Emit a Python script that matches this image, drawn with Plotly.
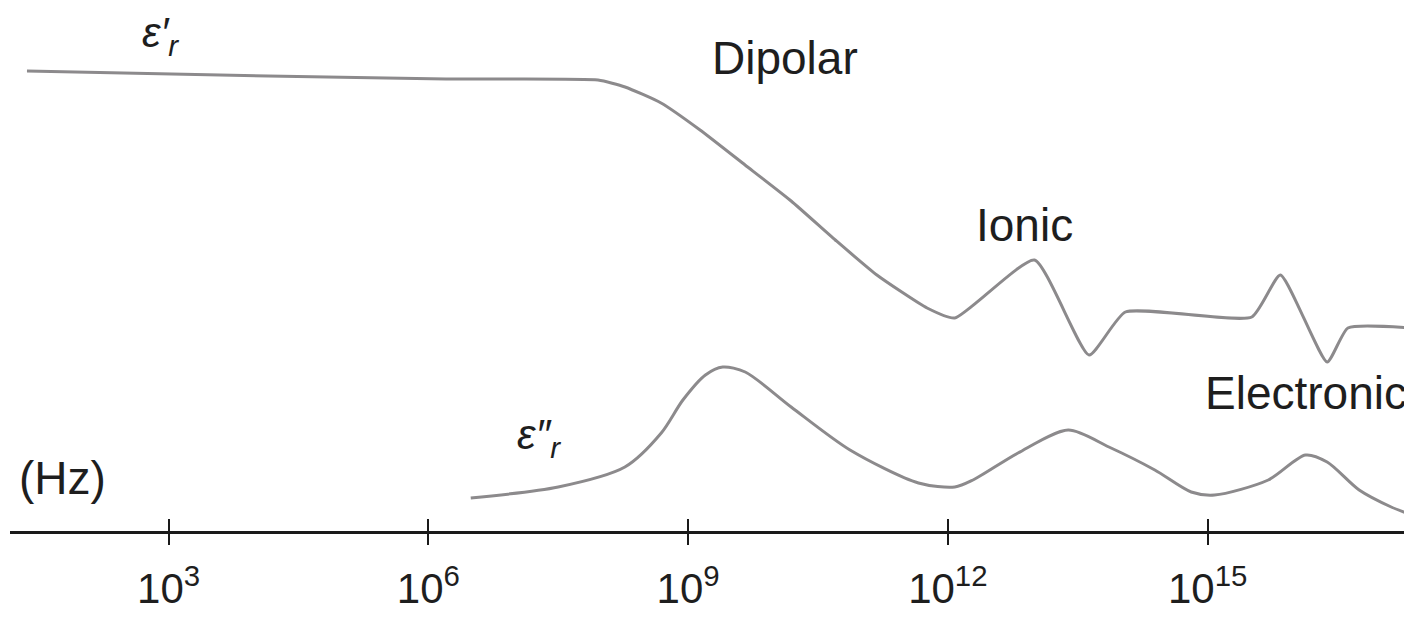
import plotly.graph_objects as go

# x values: log10(frequency / Hz); y values: relative permittivity (arbitrary units)
eps_real_logf = [1.365, 4.149, 6.205, 7.960, 8.272, 8.688, 9.138, 9.658, 10.19, 10.70,
                 11.18, 11.76, 12.08, 13.00, 13.63, 14.05, 15.51, 15.84, 16.38, 16.62, 17.36]
eps_real_val = [46.0, 45.5, 45.2, 45.1, 44.4, 42.8, 40.1, 36.6, 33.0, 29.1,
                25.6, 22.3, 21.3, 27.1, 17.6, 21.9, 21.4, 25.6, 16.9, 20.3, 20.3]

eps_imag_logf = [6.49, 7.50, 8.27, 8.69, 8.94, 9.20, 9.40, 9.66, 10.19, 10.87, 11.66, 12.08,
                 12.29, 12.81, 13.39, 13.86, 14.39, 14.81, 15.08, 15.70, 16.13, 16.38,
                 16.75, 17.12, 17.36]
eps_imag_val = [3.3, 4.4, 6.4, 9.8, 13.1, 15.6, 16.4, 15.9, 12.4, 8.1, 4.8, 4.4,
                5.1, 7.8, 10.1, 8.4, 6.1, 3.9, 3.6, 5.1, 7.6, 6.9,
                4.1, 2.4, 1.6]

tick_exponents = [3, 6, 9, 12, 15]
tick_labels = ["10<sup>3</sup>", "10<sup>6</sup>", "10<sup>9</sup>", "10<sup>12</sup>", "10<sup>15</sup>"]

# label texts and positions (log10 f, value)
label_texts = ["<i>ε′<sub>r</sub></i>", "Dipolar", "Ionic", "Electronic", "<i>ε″<sub>r</sub></i>", "(Hz)"]
label_logf = [2.91, 10.12, 12.89, 16.14, 7.28, 1.77]
label_val = [49.6, 47.3, 30.6, 13.8, 9.4, 5.3]
label_sizes = [42, 46, 46, 46, 42, 46]

x_range_log = [1.169, 17.36]
y_range = [0, 52.3]

line_color = "#8c8a8c"
font_family = "Liberation Sans, Arial, sans-serif"

fig = go.Figure()
fig.add_trace(go.Scatter(
    x=[10 ** v for v in eps_real_logf], y=eps_real_val, mode="lines",
    line=dict(color=line_color, width=3, shape="spline", smoothing=0.5),
    name="ε′r", showlegend=False, hoverinfo="skip"))
fig.add_trace(go.Scatter(
    x=[10 ** v for v in eps_imag_logf], y=eps_imag_val, mode="lines",
    line=dict(color=line_color, width=3, shape="spline", smoothing=0.8),
    name="ε″r", showlegend=False, hoverinfo="skip"))

# dummy trace for second (overlaid) axis to draw upward tick halves
fig.add_trace(go.Scatter(x=[10 ** 3], y=[None], xaxis="x2", mode="lines",
                         showlegend=False, hoverinfo="skip"))

for t, lx, ly, s in zip(label_texts, label_logf, label_val, label_sizes):
    fig.add_annotation(x=lx, y=ly, xref="x", yref="y", text=t, showarrow=False,
                       font=dict(family=font_family, size=s, color="#1e1e1e"),
                       xanchor="center", yanchor="middle")

tickvals = [10 ** e for e in tick_exponents]

fig.update_layout(
    width=1404, height=611,
    margin=dict(l=2, r=0, t=0, b=88),
    paper_bgcolor="white", plot_bgcolor="white",
    showlegend=False,
    xaxis=dict(type="log", range=x_range_log, showline=True, linecolor="#1a1a1a", linewidth=2.5,
               showgrid=False, zeroline=False, tickmode="array", tickvals=tickvals,
               ticktext=tick_labels, ticks="outside", ticklen=11, tickwidth=2, tickcolor="#1a1a1a",
               tickfont=dict(family=font_family, size=42, color="#1e1e1e"),
               ticklabelstandoff=8),
    xaxis2=dict(type="log", range=x_range_log, overlaying="x", anchor="y", side="bottom",
                showline=False, showgrid=False, zeroline=False, tickmode="array",
                tickvals=tickvals, showticklabels=False, ticks="inside", ticklen=12,
                tickwidth=2, tickcolor="#1a1a1a"),
    yaxis=dict(range=y_range, visible=False, showgrid=False, zeroline=False),
)

fig.write_html("out.html")
